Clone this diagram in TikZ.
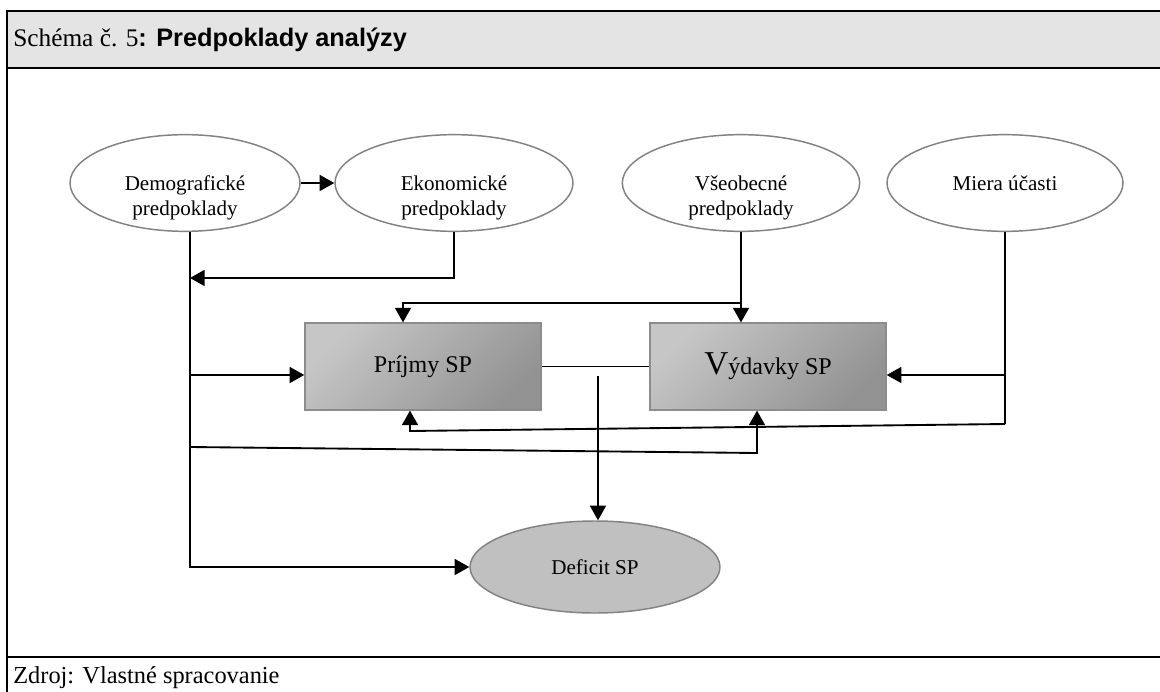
\documentclass[tikz,border=0pt]{standalone}
\usepackage{fontspec}
\setmainfont{Liberation Serif}
\newfontfamily\arialfont{Liberation Sans}
\usetikzlibrary{shapes.geometric,arrows.meta}
\definecolor{hdrgray}{HTML}{E4E4E4}
\definecolor{ellborder}{HTML}{828282}
\definecolor{boxlight}{HTML}{C6C6C6}
\definecolor{boxdark}{HTML}{939393}
\definecolor{boxborder}{HTML}{8C8C8C}
\definecolor{deffill}{HTML}{C0C0C0}
\newcommand{\twolines}[2]{\raisebox{-15pt}[0pt][0pt]{\begin{tabular}{@{}c@{}}#1\\#2\end{tabular}}}
\begin{document}
\begin{tikzpicture}[x=0.75pt,y=-0.75pt,
  ell/.style={ellipse, draw=ellborder, line width=1.1pt, fill=white, inner sep=0pt, align=center, font=\fontsize{15.8}{18.5}\selectfont},
  sbox/.style={rectangle, draw=boxborder, line width=1.1pt, top color=boxlight, bottom color=boxdark, shading angle=45, minimum width=177pt, minimum height=65pt, inner sep=0pt, font=\fontsize{18}{21}\selectfont},
  conn/.style={line width=1.4pt},
  arr/.style={conn, -{Triangle[length=11pt,width=12pt]}},
  frame/.style={line width=1.5pt}]
\useasboundingbox (0,0) rectangle (1160,692);
% header and frame
\fill[hdrgray] (7,11) rectangle (1160,68);
\draw[frame] (1161,11) -- (7,11) -- (7,693);
\draw[frame] (7,68) -- (1161,68);
\draw[frame] (7,657) -- (1161,657);
\node[anchor=base west, inner sep=0pt] (title) at (13,47) {\fontsize{19}{22}\selectfont Schéma č. 5{\arialfont\bfseries: Predpoklady analýzy}};
\node[anchor=base west, inner sep=0pt] (src) at (13,683) {\fontsize{18.3}{21}\selectfont Zdroj: Vlastné spracovanie};
% nodes
\node[ell, minimum width=172.5pt, minimum height=72.5pt] (demo) at (185,183) {\twolines{Demografické}{predpoklady}};
\node[ell, minimum width=178.5pt, minimum height=72.5pt] (eko) at (454,183) {\twolines{Ekonomické}{predpoklady}};
\node[ell, minimum width=178pt, minimum height=72.5pt] (vseob) at (741,183) {\twolines{Všeobecné}{predpoklady}};
\node[ell, minimum width=177pt, minimum height=72.5pt] (miera) at (1005,183) {Miera účasti};
\node[sbox] (prij) at (423,366.5) {Príjmy SP};
\node[sbox] (vyd) at (768,366.5) {{\fontsize{25}{25}\selectfont V}ýdavky SP};
\node[ell, fill=deffill, minimum width=187.5pt, minimum height=69pt] (def) at (595,567) {Deficit SP};
% coordinates
\coordinate (t1) at (190,278);
\coordinate (t2) at (190,375);
\coordinate (t3) at (190,447);
\coordinate (t4) at (190,567);
\coordinate (c1) at (757,453);
\coordinate (v1) at (741,303);
\coordinate (v2) at (403,303);
\coordinate (d1) at (598,376);
\coordinate (m1) at (1005,375);
\coordinate (m2) at (1005,424);
\coordinate (m3) at (410,431);
% connectors
\draw[arr] (demo.east) -- (eko.west);
\draw[arr] (t1 |- demo.south) -- (t4) -- (def.west);
\draw[arr] (eko.south) -- (eko.south |- t1) -- (t1);
\draw[arr] (t2) -- (prij.west |- t2);
\draw[arr] (t3) -- (c1) -- (vyd.south -| c1);
\draw[arr] (vseob.south) -- (vseob.south |- vyd.north);
\draw[arr] (v1) -- (v2) -- (v2 |- prij.north);
\draw[conn] (prij.east) -- (vyd.west);
\draw[arr] (d1) -- (d1 |- def.north);
\draw[conn] (miera.south) -- (m2);
\draw[arr] (m1) -- (vyd.east |- m1);
\draw[arr] (m2) -- (m3) -- (m3 |- prij.south);
\end{tikzpicture}
\end{document}
